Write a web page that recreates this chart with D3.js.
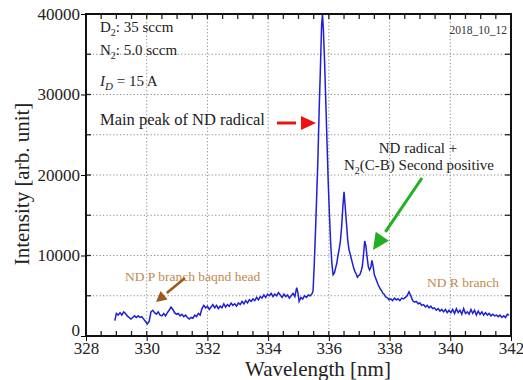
<!DOCTYPE html>
<html>
<head>
<meta charset="utf-8">
<script src="https://cdn.jsdelivr.net/npm/d3@7"></script>
<style>
  body { margin: 0; background: #fff; }
  svg { display: block; }
  svg text { font-family: "Liberation Serif", "Times New Roman", serif; }
</style>
</head>
<body>
<div id="chart"></div>
<script>
// spectrum
const wavelength = [
  328.95,329.00,329.06,329.12,329.18,329.24,329.30,329.36,329.42,329.48,329.54,329.60,329.66,329.72,329.78,329.84,329.90,329.96,
  330.02,330.08,330.14,330.20,330.26,330.32,330.38,330.44,330.50,330.56,330.62,330.68,330.74,330.80,330.86,330.92,330.98,
  331.04,331.10,331.16,331.22,331.28,331.34,331.40,331.46,331.52,331.58,331.64,331.70,331.76,331.82,331.88,331.94,
  332.00,332.06,332.12,332.18,332.24,332.30,332.36,332.42,332.48,332.54,332.60,332.66,332.72,332.78,332.84,332.90,332.96,
  333.02,333.08,333.14,333.20,333.26,333.32,333.38,333.44,333.50,333.56,333.62,333.68,333.74,333.80,333.86,333.92,333.98,
  334.04,334.10,334.16,334.22,334.28,334.34,334.40,334.46,334.52,334.58,334.64,334.70,334.76,334.82,334.88,334.94,334.98,
  335.02,335.08,335.14,335.20,335.26,335.32,335.38,335.44,335.48,335.52,335.56,335.60,335.64,335.68,335.72,335.76,335.79,
  335.82,335.86,335.90,335.94,335.98,336.02,336.06,336.10,336.14,336.18,336.22,336.26,336.30,336.34,336.38,336.42,336.46,
  336.50,336.54,336.58,336.62,336.66,336.70,336.74,336.78,336.82,336.86,336.90,336.94,336.98,337.02,337.06,337.10,337.14,
  337.18,337.22,337.26,337.30,337.34,337.38,337.42,337.46,337.50,337.54,337.58,337.62,337.66,337.70,337.74,337.78,337.82,
  337.86,337.90,337.94,337.98,338.04,338.10,338.16,338.22,338.28,338.34,338.40,338.46,338.52,338.58,338.64,338.70,338.76,
  338.82,338.88,338.94,339.00,339.06,339.12,339.18,339.24,339.30,339.36,339.42,339.48,339.54,339.60,339.66,339.72,339.78,
  339.84,339.90,339.96,340.02,340.08,340.14,340.20,340.26,340.32,340.38,340.44,340.50,340.56,340.62,340.68,340.74,340.80,
  340.86,340.92,340.98,341.04,341.10,341.16,341.22,341.28,341.34,341.40,341.46,341.52,341.58,341.64,341.70,341.76,341.82,
  341.88,341.94
];
const intensity = [
  1900,2800,2600,2900,2600,3000,2800,2500,2300,2100,2300,2500,2300,2500,2300,2400,2100,1800,
  1500,1800,3000,3200,2900,2700,3000,2600,2500,2800,2500,2900,3200,3600,3300,2900,2700,
  2800,2500,2700,2400,2600,2300,2100,2300,2200,2600,2400,2800,2600,3400,3800,3500,
  3700,3300,3600,3900,3500,3800,3400,3700,3500,4000,3600,3900,3700,4100,3800,4000,3700,
  4100,3900,4300,4000,4400,4100,4500,4300,4600,4400,4800,4500,4900,4700,5100,4800,5200,
  5000,5300,4900,5200,5000,5400,5100,4800,5200,4900,5100,4700,5000,5300,4900,6000,5400,
  4300,4800,4600,5000,4800,5100,5000,5200,5600,9000,13000,17500,22000,28000,33000,38500,40000,
  38000,34000,29000,24000,19000,15000,11500,9000,7600,7800,8400,9000,10000,10800,11800,13500,16000,
  17900,16000,14000,12000,10800,10200,9600,9000,8400,8000,7700,7300,7500,7600,8000,8600,10000,
  11800,11200,9800,8600,8200,8500,9400,8600,7600,7200,6800,6400,6100,5800,5600,5300,5200,
  4900,4800,4700,4500,4600,4400,4700,4500,4600,4400,4700,4600,4800,5000,5500,5000,4400,
  4200,4300,4000,4100,3800,3900,3600,3800,3500,3700,3400,3500,3200,3400,3100,3300,3000,
  3300,2900,3200,2900,3300,2800,3400,2900,3200,2700,3400,2800,3000,2700,3300,2800,3200,
  2600,3100,2700,3000,2600,2900,2600,2800,2500,2700,2500,2600,2400,2600,2300,2500,2300,
  2700,2600
];
const xTicks = [328, 330, 332, 334, 336, 338, 340, 342];
const yTicks = [0, 10000, 20000, 30000, 40000];

const width = 523, height = 380;
const margin = { top: 14, right: 12, bottom: 44, left: 86 };

const svg = d3.select("#chart").append("svg")
  .attr("width", width)
  .attr("height", height);

const x = d3.scaleLinear().domain([328, 342]).range([margin.left, width - margin.right]);
const y = d3.scaleLinear().domain([0, 40000]).range([height - margin.bottom, margin.top]);

/* dotted grid */
const gridX = d3.range(330, 342, 2);
const gridY = d3.range(5000, 40000, 5000);
svg.append("g").selectAll("line").data(gridX).join("line")
  .attr("x1", d => x(d)).attr("x2", d => x(d))
  .attr("y1", y(0)).attr("y2", y(40000))
  .attr("stroke", "#8a8a8a").attr("stroke-dasharray", "1.2,2.2");
svg.append("g").selectAll("line").data(gridY).join("line")
  .attr("y1", d => y(d)).attr("y2", d => y(d))
  .attr("x1", x(328)).attr("x2", x(342))
  .attr("stroke", "#8a8a8a").attr("stroke-dasharray", "1.2,2.2");

/* spectrum */
const pts = wavelength.map((w, i) => [w, intensity[i]]);
svg.append("path")
  .datum(pts)
  .attr("fill", "none")
  .attr("stroke", "#1f1fd6")
  .attr("stroke-width", 1.5)
  .attr("d", d3.line().x(d => x(d[0])).y(d => y(d[1])));

/* axes */
const minorX = d3.range(328, 342.01, 0.5);
const minorY = d3.range(0, 40001, 5000);

svg.append("g")
  .attr("transform", `translate(0,${y(0)})`)
  .call(d3.axisBottom(x).tickValues(xTicks).tickSize(5).tickPadding(1).tickFormat(d3.format("d")))
  .call(g => g.select(".domain").remove())
  .call(g => g.attr("font-family", null))
  .call(g => g.selectAll("text").attr("font-size", 17).attr("fill", "#222"));

svg.append("g")
  .attr("transform", `translate(${x(328)},0)`)
  .call(d3.axisLeft(y).tickValues(yTicks).tickSize(5).tickPadding(1).tickFormat(d3.format("d")))
  .call(g => g.select(".domain").remove())
  .call(g => g.attr("font-family", null))
  .call(g => g.selectAll("text").attr("font-size", 17).attr("fill", "#222"))
  .call(g => g.selectAll(".tick").filter(d => d === 0).select("text").attr("dy", "-0.05em"));

// inward minor ticks on all four sides
const tk = svg.append("g").attr("stroke", "#222").attr("stroke-width", 1.3);
minorX.forEach(v => {
  tk.append("line").attr("x1", x(v)).attr("x2", x(v)).attr("y1", y(0)).attr("y2", y(0) - 5);
  tk.append("line").attr("x1", x(v)).attr("x2", x(v)).attr("y1", y(40000)).attr("y2", y(40000) + 5);
});
minorY.forEach(v => {
  tk.append("line").attr("y1", y(v)).attr("y2", y(v)).attr("x1", x(328)).attr("x2", x(328) + 5);
  tk.append("line").attr("y1", y(v)).attr("y2", y(v)).attr("x1", x(342)).attr("x2", x(342) - 6);
});

/* frame */
svg.append("rect")
  .attr("x", x(328)).attr("y", y(40000))
  .attr("width", x(342) - x(328)).attr("height", y(0) - y(40000))
  .attr("fill", "none").attr("stroke", "#111").attr("stroke-width", 2);

/* axis titles */
svg.append("text")
  .attr("x", 318).attr("y", 376)
  .attr("text-anchor", "middle")
  .attr("font-size", 21).attr("fill", "#222")
  .text("Wavelength [nm]");
svg.append("text")
  .attr("transform", "translate(29,184) rotate(-90)")
  .attr("text-anchor", "middle")
  .attr("font-size", 21).attr("fill", "#222")
  .text("Intensity [arb. unit]");

/* annotations */
const note = svg.append("g").attr("fill", "#222").attr("font-size", 15);
let t = note.append("text").attr("x", 100).attr("y", 32);
t.append("tspan").text("D");
t.append("tspan").attr("font-size", 10).attr("dy", 4).text("2");
t.append("tspan").attr("dy", -4).text(": 35 sccm");
t = note.append("text").attr("x", 100).attr("y", 55);
t.append("tspan").text("N");
t.append("tspan").attr("font-size", 10).attr("dy", 4).text("2");
t.append("tspan").attr("dy", -4).text(": 5.0 sccm");
t = note.append("text").attr("x", 100).attr("y", 86);
t.append("tspan").attr("font-style", "italic").text("I");
t.append("tspan").attr("font-style", "italic").attr("font-size", 11).attr("dy", 4).text("D");
t.append("tspan").attr("dy", -4).text(" = 15 A");

svg.append("text")
  .attr("x", 100).attr("y", 125)
  .attr("font-size", 16.5).attr("fill", "#222")
  .text("Main peak of ND radical");

svg.append("text")
  .attr("x", 507).attr("y", 34)
  .attr("text-anchor", "end")
  .attr("font-size", 11.5).attr("fill", "#333")
  .text("2018_10_12");

svg.append("text")
  .attr("x", 418).attr("y", 153)
  .attr("text-anchor", "middle")
  .attr("font-size", 15).attr("fill", "#222")
  .text("ND radical +");
t = svg.append("text")
  .attr("x", 419).attr("y", 170)
  .attr("text-anchor", "middle")
  .attr("font-size", 15).attr("fill", "#222");
t.append("tspan").text("N");
t.append("tspan").attr("font-size", 10).attr("dy", 4).text("2");
t.append("tspan").attr("dy", -4).text("(C-B) Second positive");

svg.append("text")
  .attr("x", 125).attr("y", 281)
  .attr("font-size", 13.5).attr("fill", "#c08a4e")
  .text("ND P branch baqnd head");
svg.append("text")
  .attr("x", 427).attr("y", 287)
  .attr("font-size", 13.5).attr("fill", "#c08a4e")
  .text("ND R branch");

/* arrows */
function arrow(x1, y1, x2, y2, color, w, headLen, headW) {
  const a = Math.atan2(y2 - y1, x2 - x1);
  const bx = x2 - headLen * Math.cos(a), by = y2 - headLen * Math.sin(a);
  svg.append("line")
    .attr("x1", x1).attr("y1", y1).attr("x2", bx).attr("y2", by)
    .attr("stroke", color).attr("stroke-width", w);
  const px = -Math.sin(a) * headW / 2, py = Math.cos(a) * headW / 2;
  const back = x2 - headLen * 0.75 * Math.cos(a), backy = y2 - headLen * 0.75 * Math.sin(a);
  svg.append("path")
    .attr("d", `M${x2},${y2} L${bx + px - (bx - back)},${by + py - (by - backy)} L${back},${backy} L${bx - px - (bx - back)},${by - py - (by - backy)} Z`)
    .attr("fill", color);
}
arrow(277, 123, 316, 123, "#ee1111", 3, 20, 14);
arrow(422, 178, 373, 250, "#22b022", 3, 22, 16);
arrow(185, 278, 156, 302, "#9a5a1c", 2.5, 14, 11);
</script>
</body>
</html>
